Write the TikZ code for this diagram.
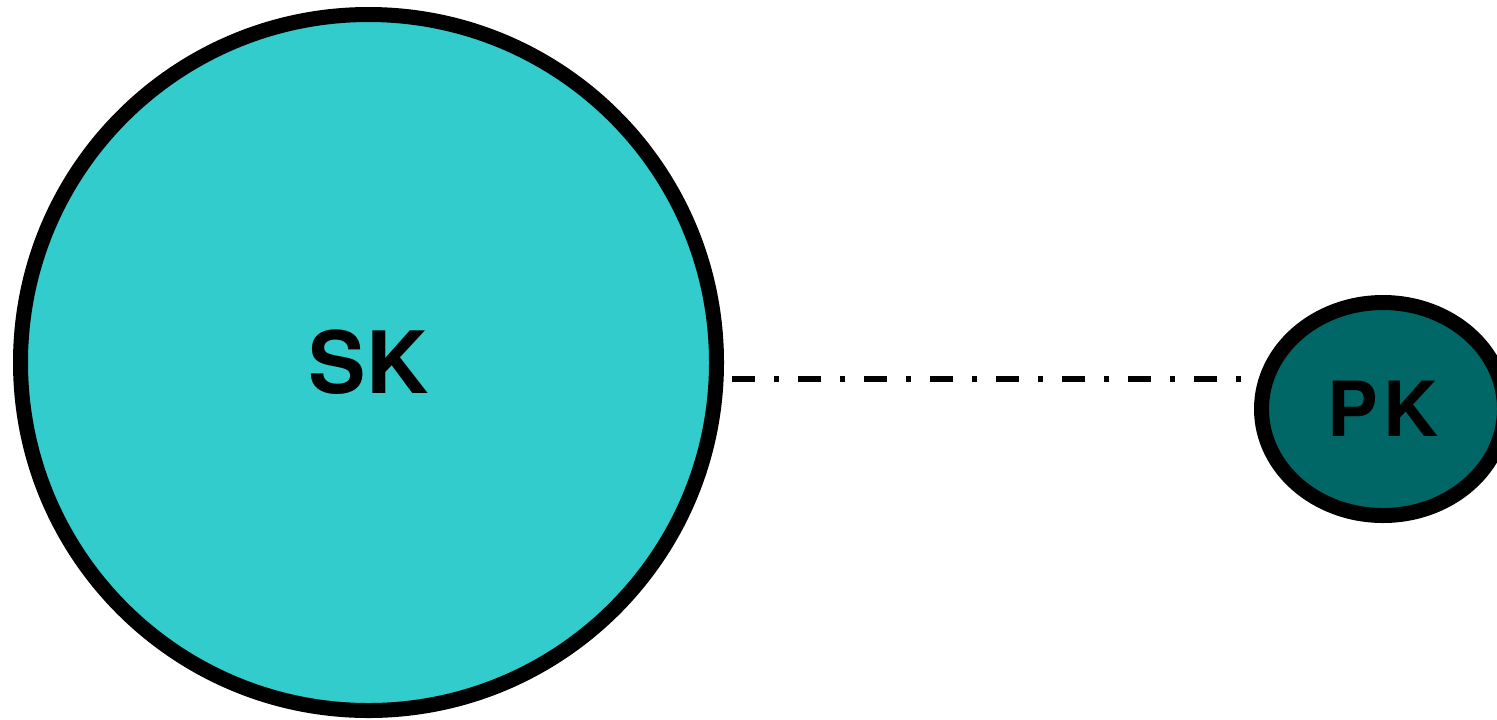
\documentclass[tikz,border=0pt]{standalone}
\usepackage{fontspec}
\setmainfont{TeX Gyre Heros}
\usetikzlibrary{shapes.geometric}
\definecolor{skfill}{HTML}{33CCCC}
\definecolor{pkfill}{HTML}{006666}
\tikzset{
  keynode/.style={draw=black, line width=7.5pt, inner sep=0pt, font=\bfseries},
  dashdotline/.style={draw=black, line width=3pt, line cap=butt,
    dash pattern=on 11.5pt off 9.5pt on 2.5pt off 9.5pt}
}
\begin{document}
\begin{tikzpicture}[x=0.5pt,y=-0.5pt]
\useasboundingbox (0,0) rectangle (1497,719);
\node[keynode, circle, fill=skfill, minimum size=348pt,
  font=\fontsize{43}{43}\selectfont\bfseries] (SK) at (368.5,362.5) {SK};
\node[keynode, ellipse, fill=pkfill, minimum width=121.5pt, minimum height=106.5pt,
  font=\fontsize{38}{38}\selectfont\bfseries] (PK) at (1383,409) {P\kern2.5pt K};
\draw[dashdotline] ([shift={(8,16.5)}]SK.east) -- ([shift={(-11,-30)}]PK.west);
\end{tikzpicture}
\end{document}
